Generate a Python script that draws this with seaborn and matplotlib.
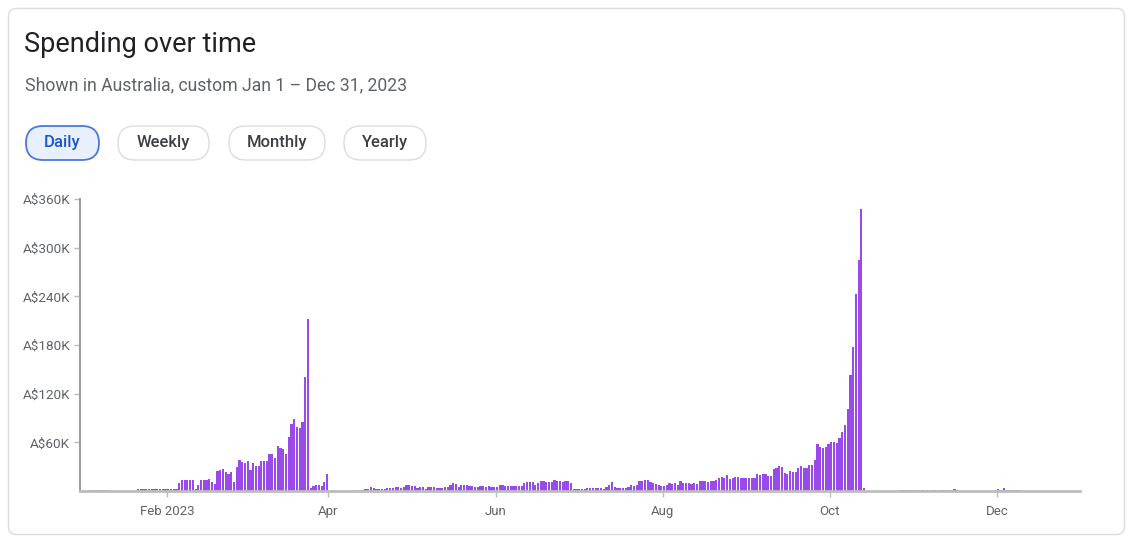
import numpy as np
import pandas as pd
import matplotlib
matplotlib.use("Agg")
import matplotlib.pyplot as plt
import seaborn as sns
from matplotlib.patches import FancyBboxPatch

# ---------------- data (daily spend, thousands of A$) ----------------
jan = [0, 0, 0.7, 0.8, 0.8, 0.7, 0.8, 0.8, 0.7, 0.7, 0, 0, 0, 0.6, 0, 0.6, 0, 0, 0, 0,
       2.2, 2.5, 2.5, 2.4, 2.6, 2.5, 2.5, 2.3, 2.2, 2.5, 2.7]
feb = [2.5, 2.6, 2.8, 2.5, 10, 14, 14, 13, 13, 13, 3, 7, 13, 13, 13, 15, 11.5, 9,
       25, 26, 27, 24, 21, 23, 11, 30, 38, 36]
mar = [34, 37, 26, 34, 31, 31, 37, 37, 37, 46, 46, 41, 56, 53, 52, 46, 67, 82, 89, 79,
       78, 85, 140, 212, 4, 6, 7, 8, 6, 11, 21]
apr = [0, 0, 0, 0, 0, 0, 0, 0, 0, 0, 0, 1, 1, 2.5, 2.5, 5, 3.3, 2.5, 2.5, 2.5, 2.5,
       3.7, 3.7, 3.7, 5.3, 5.3, 3.3, 5.3, 7.4, 7.4]
may = [5.7, 5.7, 3.3, 4.5, 4.5, 2.5, 4.5, 4.5, 5, 3.3, 3.3, 3.3, 5, 5, 8, 9.5, 9, 5,
       7.8, 7.8, 7.5, 6, 6, 5.5, 4.5, 6, 6, 5, 6, 4.5, 4.5]
jun = [4.5, 8, 7.5, 6, 6, 6, 6, 6, 6, 6, 9.5, 10.7, 10.7, 10.7, 7.8, 10, 12, 12, 11, 11,
       11, 13, 12, 12, 11, 12, 12, 10, 2.9, 2.9]
jul = [2, 2, 2, 3.3, 3.3, 3.3, 3.3, 3.3, 3.3, 2, 5, 7.4, 10.7, 5, 3.3, 3.3, 3.3, 3.3,
       5, 7.4, 6, 7.4, 12.3, 12, 13.5, 13.5, 11, 10, 8.6, 7.4, 6]
aug = [6, 7.8, 9.5, 8.2, 9.9, 7.4, 12, 10, 10, 10, 9, 10, 9, 12, 12, 12, 10.7, 12.3,
       12.3, 14, 16, 17.3, 15.6, 19.7, 15, 16.4, 17, 17.5, 16.5, 16.4, 16.4]
sep = [16.4, 16.4, 16.4, 20.5, 19.7, 20.5, 20.5, 19, 19, 26.7, 28.8, 31, 30, 21.8, 21,
       24.7, 24, 24, 28.8, 31, 28.8, 28.8, 32, 32, 38.6, 57.5, 53.8, 52.6, 53.8, 57.5]
oct_ = [60, 60.8, 59, 65.8, 72.3, 81.4, 101, 143, 177, 243, 285, 348, 3.3,
        0, 0, 0, 0, 0, 0, 0, 0, 0, 0, 0, 0, 0.8, 0.8, 0.8, 0.8, 0.8, 0.8]
nov = [0.8] * 14 + [2, 1.8] + [0] * 14
dec = [2, 1, 3.7, 1, 1, 1, 1, 1, 1] + [0] * 22

month_lists = [jan, feb, mar, apr, may, jun, jul, aug, sep, oct_, nov, dec]
spend_k = [v for m in month_lists for v in m]
dates = pd.date_range("2023-01-01", "2023-12-31", freq="D")

tick_dates = ["2023-02-01", "2023-04-01", "2023-06-01", "2023-08-01", "2023-10-01", "2023-12-01"]
tick_labels = ["Feb 2023", "Apr", "Jun", "Aug", "Oct", "Dec"]
y_ticks = [60000, 120000, 180000, 240000, 300000, 360000]
y_tick_labels = ["A$60K", "A$120K", "A$180K", "A$240K", "A$300K", "A$360K"]

title = "Spending over time"
subtitle = "Shown in Australia, custom Jan 1 \u2013 Dec 31, 2023"
buttons = ["Daily", "Weekly", "Monthly", "Yearly"]
selected = "Daily"

df = pd.DataFrame({"day": np.arange(len(dates)), "spend": np.array(spend_k) * 1000.0})

# ---------------- style ----------------
sns.set_theme(style="white")
plt.rcParams["font.family"] = ["Roboto", "DejaVu Sans"]

W, H = 1133, 543
fig = plt.figure(figsize=(W / 100, H / 100), dpi=100)
fig.patch.set_facecolor("white")

bg = fig.add_axes([0, 0, 1, 1])
bg.set_xlim(0, W)
bg.set_ylim(H, 0)
bg.axis("off")

card = FancyBboxPatch((8.5, 8.5), W - 17, H - 17,
                      boxstyle="round,pad=0,rounding_size=8",
                      fc="white", ec="#dadce0", lw=1.0)
bg.add_patch(card)
bg.text(24, 45, title, fontsize=19.5, color="#202124", va="center", ha="left")
bg.text(25, 85, subtitle, fontsize=12.7, color="#5f6368", va="center", ha="left")

btn_boxes = [(26, 99), (118, 209), (229, 325), (344, 426)]
for name, (x0, x1) in zip(buttons, btn_boxes):
    sel = name == selected
    pill = FancyBboxPatch((x0, 126), x1 - x0, 34,
                          boxstyle="round,pad=0,rounding_size=17",
                          fc="#e8f0fe" if sel else "white",
                          ec="#4a79d9" if sel else "#dadce0",
                          lw=1.3 if sel else 1.0)
    bg.add_patch(pill)
    bg.text((x0 + x1) / 2, 143, name, fontsize=12, fontweight="medium",
            color="#1a56c4" if sel else "#3c4043", ha="center", va="center")

# ---------------- chart ----------------
ax = fig.add_axes([80 / W, 1 - 491 / H, 1000 / W, 292 / H])
sns.barplot(data=df, x="day", y="spend", color="#9a4ae8", saturation=1,
            width=0.8, errorbar=None, linewidth=0, ax=ax)

ax.set_xlim(-1.2, 363.8)
ax.set_ylim(0, 360000)
tick_pos = [(pd.Timestamp(d) - dates[0]).days - 0.5 for d in tick_dates]
ax.set_xticks(tick_pos)
ax.set_xticklabels(tick_labels)
ax.set_yticks(y_ticks)
ax.set_yticklabels(y_tick_labels)
ax.set_xlabel("")
ax.set_ylabel("")
ax.set_facecolor("none")

for s in ["top", "right"]:
    ax.spines[s].set_visible(False)
ax.spines["left"].set_color("#9e9e9e")
ax.spines["left"].set_linewidth(1.5)
ax.spines["bottom"].set_color("#bdbdbd")
ax.spines["bottom"].set_linewidth(2)

ax.tick_params(axis="x", length=4, width=1, color="#bdbdbd", labelsize=9.5,
               labelcolor="#5f6368", pad=6, bottom=True)
ax.tick_params(axis="y", length=4, width=1, color="#bdbdbd", labelsize=9.7,
               labelcolor="#5f6368", pad=3, left=True)
ax.grid(False)

fig.savefig("out.png", dpi=100, facecolor="white")
